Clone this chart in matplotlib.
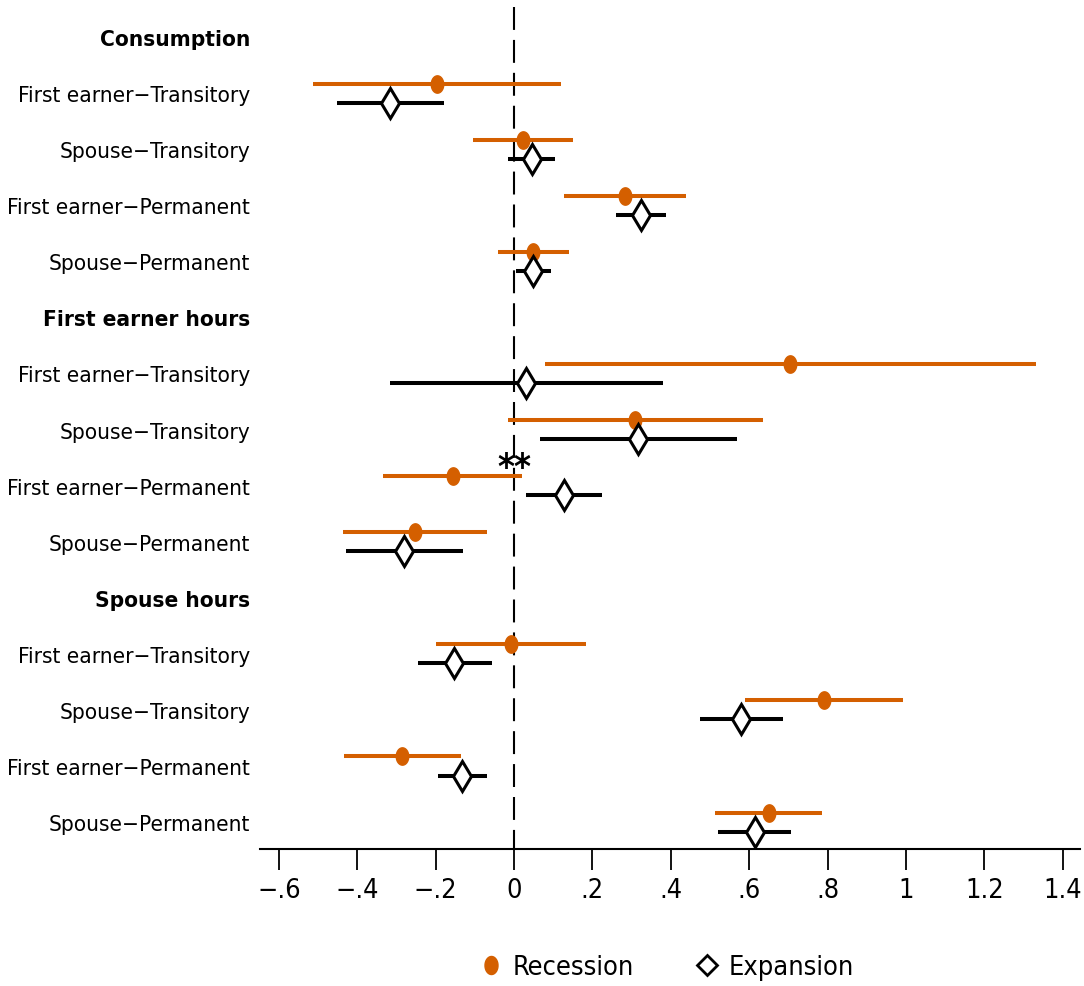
import numpy as np
import matplotlib.pyplot as plt
from matplotlib import font_manager
from matplotlib.lines import Line2D

# the original uses a condensed Helvetica; use a narrow face when one is installed
narrow = None
for f in font_manager.fontManager.ttflist:
    name = f.name.lower()
    if 'mono' in name or 'serif' in name:
        continue
    if 'narrow' in name or 'condensed' in name:
        narrow = f.name
        break
    if f.name == 'DejaVu Sans' and f.stretch == 'condensed':
        narrow = 'DejaVu Sans'
        break

if narrow is not None:
    plt.rcParams['font.family'] = [narrow, 'DejaVu Sans']
    plt.rcParams['font.stretch'] = 'condensed'
else:
    plt.rcParams['font.family'] = ['Liberation Sans', 'DejaVu Sans']

# row labels, top to bottom (headers are rows with no estimates)
rows = ['Consumption',
        'First earner\u2212Transitory', 'Spouse\u2212Transitory',
        'First earner\u2212Permanent', 'Spouse\u2212Permanent',
        'First earner hours',
        'First earner\u2212Transitory', 'Spouse\u2212Transitory',
        'First earner\u2212Permanent', 'Spouse\u2212Permanent',
        'Spouse hours',
        'First earner\u2212Transitory', 'Spouse\u2212Transitory',
        'First earner\u2212Permanent', 'Spouse\u2212Permanent']
headers = [0, 5, 10]
est_rows = [1, 2, 3, 4, 6, 7, 8, 9, 11, 12, 13, 14]

rec_coef = [-0.197, 0.024, 0.284, 0.049, 0.705, 0.309, -0.156, -0.253, -0.008, 0.790, -0.287, 0.650]
rec_lo = [-0.512, -0.104, 0.128, -0.042, 0.079, -0.016, -0.335, -0.437, -0.199, 0.590, -0.435, 0.514]
rec_hi = [0.119, 0.151, 0.439, 0.140, 1.333, 0.636, 0.020, -0.068, 0.183, 0.992, -0.136, 0.785]

exp_coef = [-0.316, 0.045, 0.324, 0.049, 0.031, 0.317, 0.128, -0.280, -0.152, 0.579, -0.132, 0.614]
exp_lo = [-0.452, -0.016, 0.261, 0.004, -0.317, 0.067, 0.031, -0.429, -0.245, 0.474, -0.193, 0.520]
exp_hi = [-0.179, 0.105, 0.387, 0.094, 0.379, 0.569, 0.225, -0.129, -0.057, 0.685, -0.068, 0.707]

# significance of the difference, attached to the recession estimate
stars = {8: '**'}

xticks = [-0.6, -0.4, -0.2, 0, 0.2, 0.4, 0.6, 0.8, 1, 1.2, 1.4]
xticklabels = ['\u2212.6', '\u2212.4', '\u2212.2', '0', '.2', '.4', '.6', '.8', '1', '1.2', '1.4']

orange = '#D45F00'

# slightly tall ellipse marker like the original
t = np.linspace(0, 2 * np.pi, 40)
ellipse = list(zip(0.72 * np.cos(t), np.sin(t)))

fig = plt.figure(figsize=(10.84, 9.87), dpi=100)

# size the labels so the longest one is as wide as in the original (~231 px)
probe = fig.text(0, 0, 'First earner\u2212Transitory', fontsize=20)
w = probe.get_window_extent(renderer=fig.canvas.get_renderer()).width
probe.remove()
fs = min(20.0, 20.0 * 231.0 / w)

ax = fig.add_axes([0.2399, 0.1388, 0.7564, 0.8531])

y = -np.array(est_rows, dtype=float)
off = 0.17
yr = y + off
ye = y - off

# zero line, dashed from the top down
ax.plot([0, 0], [1, 0], transform=ax.get_xaxis_transform(), color='black', lw=1.5,
        ls=(0, (11, 4.8)), zorder=1)

ax.hlines(yr, rec_lo, rec_hi, color=orange, lw=2.9, zorder=2)
ax.plot(rec_coef, yr, ls='none', marker=ellipse, ms=12.5, color=orange, zorder=3)
ax.hlines(ye, exp_lo, exp_hi, color='black', lw=2.9, zorder=2)
ax.plot(exp_coef, ye, ls='none', marker='d', ms=15, mfc='white', mec='black',
        mew=2.2, zorder=3)

for r, s in stars.items():
    i = est_rows.index(r)
    ax.text(rec_hi[i] - 0.02, -r + off + 0.17, s, ha='center', va='center',
            fontsize=26, fontweight='bold')

ax.set_xlim(-0.648, 1.444)
ax.set_ylim(-14.48, 0.535)
ax.set_xticks(xticks)
ax.set_xticklabels(xticklabels, fontsize=fs * 1.2)
ax.set_yticks(-np.arange(len(rows)))
ax.set_yticklabels(rows, fontsize=fs)
for i, lab in enumerate(ax.get_yticklabels()):
    if i in headers:
        lab.set_fontweight('bold')
ax.tick_params(axis='y', length=0, pad=7)
ax.tick_params(axis='x', length=15, width=1.3, pad=5)
for s in ['top', 'right', 'left']:
    ax.spines[s].set_visible(False)
ax.spines['bottom'].set_linewidth(1.5)

handles = [Line2D([], [], ls='none', marker=ellipse, ms=13, color=orange),
           Line2D([], [], ls='none', marker='D', ms=10, mfc='white', mec='black', mew=2)]
fig.legend(handles, ['Recession', 'Expansion'], loc='center', bbox_to_anchor=(0.614, 0.019),
           ncol=2, frameon=False, fontsize=fs * 1.2, handletextpad=0.3, columnspacing=2.2,
           handlelength=1.0)

fig.savefig('out.png', dpi=100)
